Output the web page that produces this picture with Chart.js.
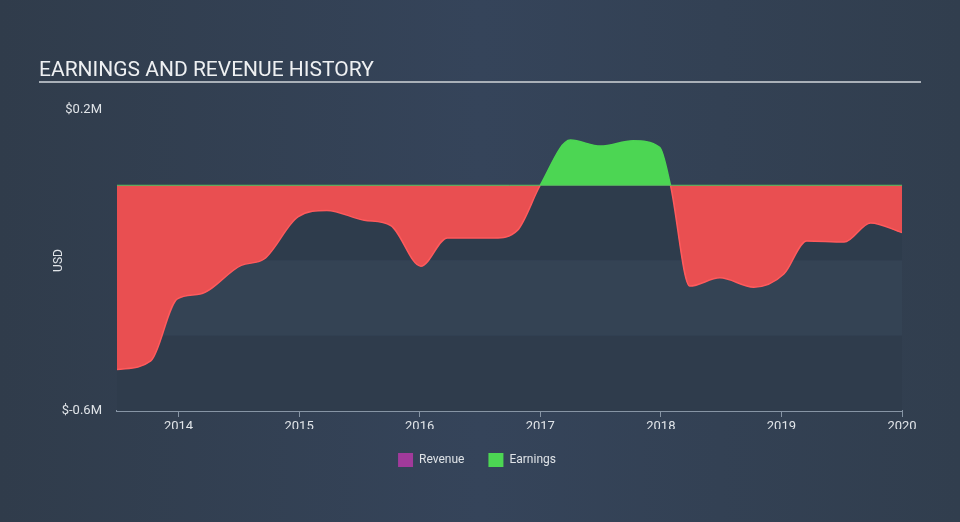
<!DOCTYPE html>
<html><head><meta charset="utf-8">
<script src="https://cdn.jsdelivr.net/npm/chart.js@4/dist/chart.umd.min.js"></script>
<style>
html,body{margin:0;padding:0;background:#334050;}
#wrap{position:relative;width:960px;height:522px;background:linear-gradient(90deg,#303c4b 0%,#35445a 50%,#313e4e 100%);}
</style></head>
<body><div id="wrap"><canvas id="c" width="960" height="522"></canvas></div>
<script>
const titleText = "EARNINGS AND REVENUE HISTORY";
const yTickLabels = {"0.2":"$0.2M","-0.6":"$-0.6M"};
const xTicks = [2014,2015,2016,2017,2018,2019,2020];
const earnYears = [2013.49,2013.77,2013.99,2014.18,2014.52,2014.71,2014.99,2015.23,2015.54,2015.76,2016.01,2016.23,2016.62,2016.81,2017.00,2017.25,2017.50,2017.77,2017.99,2018.08,2018.24,2018.49,2018.77,2019.02,2019.21,2019.52,2019.74,2020.00];
const earnValues = [-0.49,-0.467,-0.302,-0.289,-0.213,-0.196,-0.084,-0.067,-0.093,-0.107,-0.215,-0.14,-0.14,-0.12,0,0.12,0.104,0.118,0.101,0,-0.268,-0.246,-0.271,-0.236,-0.148,-0.151,-0.10,-0.126];
const revYears = [2013.49,2020.00];
const revValues = [0,0];
const bands = [[0,-0.2,'#2e3c4c'],[-0.2,-0.4,'#344354'],[-0.4,-0.6,'#2f3c4c']];

const bgPlugin = {
  id:'bg',
  beforeDatasetsDraw(chart){
    const {ctx, chartArea:a, scales:{y}} = chart;
    ctx.save();
    bands.forEach(b=>{
      const y1=y.getPixelForValue(b[0]), y2=y.getPixelForValue(b[1]);
      ctx.fillStyle=b[2];
      ctx.fillRect(a.left,y1,a.right-a.left,y2-y1);
    });
    ctx.restore();
  },
  afterDraw(chart){
    const ctx=chart.ctx;
    ctx.save();
    ctx.font='21px Roboto';
    ctx.fillStyle='#eef0f2';
    ctx.textBaseline='alphabetic';
    ctx.fillText(titleText,39,76);
    ctx.fillStyle='#a9b0b8';
    ctx.fillRect(39,81,882,2);
    ctx.restore();
  }
};

const pts = earnYears.map((x,i)=>({x,y:earnValues[i]}));
const revPts = revYears.map((x,i)=>({x,y:revValues[i]}));

new Chart(document.getElementById('c'),{
  type:'line',
  data:{datasets:[
    {label:'Revenue',data:revPts,borderColor:'#56c463',backgroundColor:'#a13a9b',borderWidth:1,pointRadius:0,fill:false,order:0},
    {label:'Earnings',data:pts,borderWidth:1.5,pointRadius:0,cubicInterpolationMode:'monotone',
     backgroundColor:'#4cd653',
     fill:{target:'origin',above:'#4cd653',below:'#e94f51'},
     segment:{borderColor:c=>((c.p0.parsed.y+c.p1.parsed.y)>0?'#4cd653':'#ff5a5c')},
     order:1}
  ]},
  options:{
    responsive:false,animation:false,
    layout:{padding:{top:110,right:58,bottom:45,left:52}},
    plugins:{
      legend:{position:'bottom',labels:{color:'#dfe3e7',font:{family:'Roboto',size:12},boxWidth:15,boxHeight:14,padding:24,
        generateLabels(chart){return chart.data.datasets.map((d,i)=>({text:d.label,fillStyle:d.backgroundColor,strokeStyle:d.backgroundColor,lineWidth:0,datasetIndex:i,fontColor:'#dfe3e7'}));}}},
      tooltip:{enabled:false}
    },
    scales:{
      x:{type:'linear',min:2013.49,max:2020.0,
        afterBuildTicks(s){s.ticks=xTicks.map(v=>({value:v}));},
        ticks:{color:'#e0e4e8',font:{family:'Roboto',size:13},callback:v=>String(v),padding:2,maxRotation:0},
        grid:{display:true,drawOnChartArea:false,drawTicks:true,tickLength:6,color:'#8795a5'},
        border:{display:true,color:'#8795a5',width:2},
        afterFit(s){s.height=18;}
      },
      y:{min:-0.6,max:0.2,
        afterBuildTicks(s){s.ticks=[{value:-0.6},{value:0.2}];},
        ticks:{color:'#e0e4e8',font:{family:'Roboto',size:13},callback:v=>yTickLabels[String(Math.round(v*10)/10)]||'',padding:7},
        grid:{display:false},
        border:{display:false},
        title:{display:true,text:'USD',color:'#e0e4e8',font:{family:'Roboto',size:12},padding:{top:0,bottom:0}},
        afterFit(s){s.width=65;}
      }
    }
  },
  plugins:[bgPlugin]
});
</script></body></html>
